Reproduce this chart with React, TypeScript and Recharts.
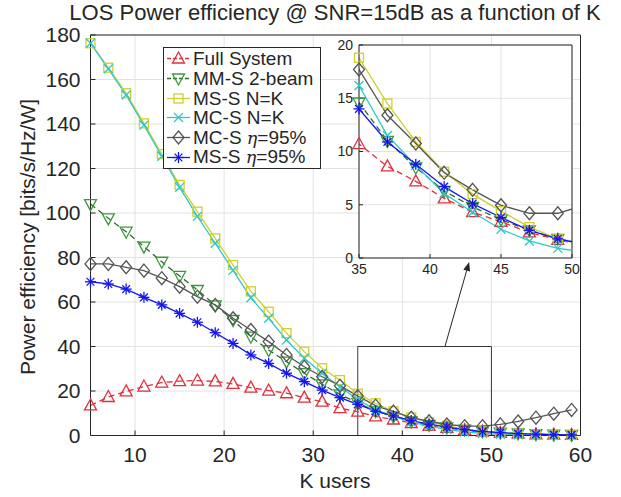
import React from 'react';
import {
  ComposedChart,
  Line,
  XAxis,
  YAxis,
  CartesianGrid,
  ReferenceArea,
  ReferenceLine,
} from 'recharts';

// ---------------- data ----------------
const K = [5, 7, 9, 11, 13, 15, 17, 19, 21, 23, 25, 27, 29, 31, 33, 35, 37, 39, 41, 43, 45, 47, 49, 51, 53, 55, 57, 59];

const fullSystem = [13.5, 17.3, 19.8, 22.0, 23.8, 24.4, 24.7, 24.3, 23.2, 21.5, 20.2, 19.0, 17.0, 15.2, 12.3, 10.7, 8.6, 7.2, 5.6, 4.3, 3.4, 2.4, 1.7, 1.15, 0.8, 0.55, 0.4, 0.3];
const mmS2beam = [104.0, 97.6, 91.6, 84.9, 78.1, 71.7, 65.4, 58.5, 51.9, 44.4, 38.4, 33.2, 28.0, 23.0, 18.5, 14.6, 11.0, 8.5, 6.3, 4.8, 3.6, 2.6, 1.8, 1.3, 0.9, 0.6, 0.4, 0.3];
const msSNK = [176.3, 165.3, 153.8, 140.3, 126.5, 112.6, 100.6, 88.6, 76.6, 64.8, 55.6, 46.0, 37.7, 30.2, 24.9, 18.8, 14.5, 10.9, 8.1, 6.0, 4.4, 2.9, 1.8, 1.2, 0.8, 0.5, 0.35, 0.25];
const mcSNK = [176.3, 164.8, 153.0, 139.5, 125.5, 111.5, 98.5, 86.4, 74.2, 61.9, 52.7, 42.9, 34.7, 28.0, 21.8, 16.2, 11.5, 8.7, 6.05, 4.3, 2.7, 1.6, 0.9, 0.55, 0.35, 0.2, 0.12, 0.08];
const mcSEta = [77.1, 77.1, 75.6, 74.1, 70.7, 66.9, 62.4, 58.7, 52.7, 47.4, 42.2, 36.2, 30.9, 26.4, 22.4, 17.7, 13.4, 10.75, 8.0, 6.4, 4.95, 4.2, 4.2, 5.0, 6.3, 8.0, 9.8, 11.5];
const msSEta = [69.1, 68.1, 65.8, 62.1, 58.7, 54.9, 50.9, 46.2, 41.4, 36.2, 32.4, 28.0, 24.2, 20.4, 17.0, 14.0, 10.9, 8.8, 6.7, 5.1, 3.8, 2.6, 1.8, 1.25, 0.85, 0.6, 0.4, 0.28];

const xTicks = [10, 20, 30, 40, 50, 60];
const yTicks = [0, 20, 40, 60, 80, 100, 120, 140, 160, 180];
const insetXTicks = [35, 40, 45, 50];
const insetYTicks = [0, 5, 10, 15, 20];

const zoomBox = { k1: 35, k2: 50, v1: 0, v2: 40 };

// ---------------- styling ----------------
const FONT = "'Liberation Sans', Arial, Helvetica, sans-serif";
const AX = '#262626';
const GRID = '#e2e2e2';

type MarkerType = 'triUp' | 'triDown' | 'square' | 'cross' | 'diamond' | 'star';

const SERIES: { key: string; name: string; eta?: boolean; color: string; lineColor: string; dash?: string; marker: MarkerType }[] = [
  { key: 'full', name: 'Full System', color: '#e0303c', lineColor: '#e0303c', dash: '6 4', marker: 'triUp' },
  { key: 'mms', name: 'MM-S 2-beam', color: '#3a9a3a', lineColor: '#2a6e2a', dash: '6 4', marker: 'triDown' },
  { key: 'mssN', name: 'MS-S N=K', color: '#cfcf30', lineColor: '#cfcf30', marker: 'square' },
  { key: 'mcsN', name: 'MC-S N=K', color: '#2ec8c8', lineColor: '#2ec8c8', marker: 'cross' },
  { key: 'mcsEta', name: 'MC-S ', eta: true, color: '#555555', lineColor: '#555555', marker: 'diamond' },
  { key: 'mssEta', name: 'MS-S ', eta: true, color: '#1515f0', lineColor: '#1515f0', marker: 'star' },
];

const data = K.map((k, i) => ({
  k,
  full: fullSystem[i],
  mms: mmS2beam[i],
  mssN: msSNK[i],
  mcsN: mcSNK[i],
  mcsEta: mcSEta[i],
  mssEta: msSEta[i],
}));

const insetLineData = data.filter((d) => d.k >= 33 && d.k <= 51);
const insetMarkerData = data.filter((d) => d.k >= 35 && d.k <= 50);

// ---------------- markers ----------------
function MarkerShape({ type, cx, cy, color }: { type: MarkerType; cx: number; cy: number; color: string }) {
  const sw = 1.3;
  const common = { fill: 'none', stroke: color, strokeWidth: sw };
  switch (type) {
    case 'triUp':
      return <polygon points={`${cx},${cy - 6.5} ${cx - 6},${cy + 4.5} ${cx + 6},${cy + 4.5}`} {...common} />;
    case 'triDown':
      return <polygon points={`${cx},${cy + 6.5} ${cx - 6},${cy - 4.5} ${cx + 6},${cy - 4.5}`} {...common} />;
    case 'square':
      return <rect x={cx - 4.5} y={cy - 4.5} width={9} height={9} {...common} />;
    case 'cross':
      return (
        <g {...common}>
          <line x1={cx - 4.5} y1={cy - 4.5} x2={cx + 4.5} y2={cy + 4.5} />
          <line x1={cx - 4.5} y1={cy + 4.5} x2={cx + 4.5} y2={cy - 4.5} />
        </g>
      );
    case 'diamond':
      return <polygon points={`${cx},${cy - 6.5} ${cx + 5.5},${cy} ${cx},${cy + 6.5} ${cx - 5.5},${cy}`} {...common} />;
    case 'star':
    default: {
      const r = 5.5;
      const d = r * 0.7071;
      return (
        <g {...common}>
          <line x1={cx - r} y1={cy} x2={cx + r} y2={cy} />
          <line x1={cx} y1={cy - r} x2={cx} y2={cy + r} />
          <line x1={cx - d} y1={cy - d} x2={cx + d} y2={cy + d} />
          <line x1={cx - d} y1={cy + d} x2={cx + d} y2={cy - d} />
        </g>
      );
    }
  }
}

const makeDot = (type: MarkerType, color: string) => (props: any) => {
  const { cx, cy, index } = props;
  if (cx == null || cy == null || isNaN(cx) || isNaN(cy)) return <g key={`d-${index}`} />;
  return (
    <g key={`d-${index}`}>
      <MarkerShape type={type} cx={cx} cy={cy} color={color} />
    </g>
  );
};

const ArrowShape = (props: any) => {
  const { x1, y1, x2, y2 } = props;
  if ([x1, y1, x2, y2].some((v) => v == null || isNaN(v))) return <g />;
  const ang = Math.atan2(y2 - y1, x2 - x1);
  const L = 9;
  const W = 3.5;
  const bx = x2 - L * Math.cos(ang);
  const by = y2 - L * Math.sin(ang);
  const px = -Math.sin(ang) * W;
  const py = Math.cos(ang) * W;
  return (
    <g>
      <line x1={x1} y1={y1} x2={bx} y2={by} stroke={AX} strokeWidth={1} />
      <polygon points={`${x2},${y2} ${bx + px},${by + py} ${bx - px},${by - py}`} fill={AX} />
    </g>
  );
};

// ---------------- legend ----------------
function LegendBox() {
  return (
    <div
      style={{
        position: 'absolute',
        left: 163,
        top: 47,
        width: 158,
        height: 122,
        boxSizing: 'border-box',
        border: `1px solid ${AX}`,
        background: '#fff',
        paddingTop: 1,
        fontFamily: FONT,
        fontSize: 19,
        color: AX,
      }}
    >
      {SERIES.map((s) => (
        <div key={s.key} style={{ display: 'flex', alignItems: 'center', height: 19.7, whiteSpace: 'nowrap' }}>
          <svg width={28} height={19} style={{ marginLeft: 1, flex: 'none' }}>
            <line x1={2} y1={9.5} x2={25} y2={9.5} stroke={s.lineColor} strokeWidth={1.3} strokeDasharray={s.dash ? '4 2' : undefined} />
            <MarkerShape type={s.marker} cx={13.5} cy={9.5} color={s.color} />
          </svg>
          <span style={{ lineHeight: '19px' }}>
            {s.name}
            {s.eta ? (
              <>
                <span style={{ fontStyle: 'italic', fontFamily: "'DejaVu Serif', serif", fontSize: 17.5 }}>η</span>=95%
              </>
            ) : null}
          </span>
        </div>
      ))}
    </div>
  );
}

// ---------------- app ----------------
export default function App() {
  const tickStyle = { fill: AX, fontSize: 21, fontFamily: FONT };
  const insetTick = { fill: AX, fontSize: 14, fontFamily: FONT };
  const tl = { stroke: AX, strokeWidth: 1 };
  return (
    <div style={{ position: 'absolute', left: 0, top: 0, width: 621, height: 497, background: '#fff', overflow: 'hidden' }}>
      <ComposedChart width={621} height={497} data={data} margin={{ top: 35, right: 40.5, bottom: 31.5, left: 30.5 }}>
        <CartesianGrid stroke={GRID} />
        <XAxis
          dataKey="k"
          type="number"
          domain={[5, 60]}
          ticks={xTicks}
          height={30}
          tickLine={tl}
          tickSize={-5}
          tickMargin={17}
          axisLine={{ stroke: AX }}
          tick={tickStyle}
          interval={0}
        />
        <YAxis
          type="number"
          domain={[0, 180]}
          ticks={yTicks}
          width={60}
          tickLine={tl}
          tickSize={-5}
          tickMargin={15}
          axisLine={{ stroke: AX }}
          tick={tickStyle}
          interval={0}
        />
        <XAxis
          xAxisId="top"
          orientation="top"
          type="number"
          domain={[5, 60]}
          allowDataOverflow
          ticks={xTicks}
          height={0}
          tickLine={tl}
          tickSize={-5}
          tick={false}
          axisLine={false}
          interval={0}
        />
        <YAxis
          yAxisId="right"
          orientation="right"
          type="number"
          domain={[0, 180]}
          allowDataOverflow
          ticks={yTicks}
          width={0}
          tickLine={tl}
          tickSize={-5}
          tick={false}
          axisLine={false}
          interval={0}
        />
        <ReferenceLine y={180} stroke={AX} />
        <ReferenceLine x={60} stroke={AX} />
        <ReferenceArea x1={zoomBox.k1} x2={zoomBox.k2} y1={zoomBox.v1} y2={zoomBox.v2} fill="none" stroke={AX} strokeOpacity={0.9} strokeWidth={1} />
        <ReferenceLine
          segment={[
            { x: 44.8, y: 40.2 },
            { x: 47.5, y: 78 },
          ]}
          shape={ArrowShape}
        />
        {SERIES.map((s) => (
          <Line
            key={s.key}
            dataKey={s.key}
            type="linear"
            stroke={s.lineColor}
            strokeWidth={1.3}
            strokeDasharray={s.dash}
            dot={makeDot(s.marker, s.color)}
            activeDot={false}
            isAnimationActive={false}
          />
        ))}
      </ComposedChart>

      {/* inset */}
      <div style={{ position: 'absolute', left: 320, top: 30, width: 260, height: 250 }}>
        <ComposedChart width={260} height={250} data={insetLineData} margin={{ top: 15, right: 8, bottom: 2, left: 9 }}>
          <CartesianGrid stroke={GRID} fill="#ffffff" fillOpacity={1} xAxisId="l" yAxisId="l" />
          <XAxis
            xAxisId="l"
            dataKey="k"
            type="number"
            domain={[35, 50]}
            ticks={insetXTicks}
            allowDataOverflow
            height={20}
            tickLine={tl}
            tickSize={-4}
            tickMargin={10}
            axisLine={{ stroke: AX }}
            tick={insetTick}
            interval={0}
          />
          <YAxis
            yAxisId="l"
            type="number"
            domain={[0, 20]}
            ticks={insetYTicks}
            allowDataOverflow
            width={30}
            tickLine={tl}
            tickSize={-4}
            tickMargin={10}
            axisLine={{ stroke: AX }}
            tick={insetTick}
            interval={0}
          />
          <XAxis
            xAxisId="lt"
            orientation="top"
            type="number"
            domain={[35, 50]}
            allowDataOverflow
            ticks={insetXTicks}
            height={0}
            tickLine={tl}
            tickSize={-4}
            tick={false}
            axisLine={false}
            interval={0}
          />
          <YAxis
            yAxisId="lr"
            orientation="right"
            type="number"
            domain={[0, 20]}
            allowDataOverflow
            ticks={insetYTicks}
            width={0}
            tickLine={tl}
            tickSize={-4}
            tick={false}
            axisLine={false}
            interval={0}
          />
          <XAxis xAxisId="m" dataKey="k" type="number" domain={[35, 50]} hide />
          <YAxis yAxisId="m" type="number" domain={[0, 20]} hide />
          <ReferenceLine xAxisId="l" yAxisId="l" y={20} stroke={AX} />
          <ReferenceLine xAxisId="l" yAxisId="l" x={50} stroke={AX} />
          {SERIES.map((s) => (
            <Line
              key={`l-${s.key}`}
              xAxisId="l"
              yAxisId="l"
              dataKey={s.key}
              type="linear"
              stroke={s.lineColor}
              strokeWidth={1.3}
              strokeDasharray={s.dash}
              dot={false}
              activeDot={false}
              isAnimationActive={false}
            />
          ))}
          {SERIES.map((s) => (
            <Line
              key={`m-${s.key}`}
              xAxisId="m"
              yAxisId="m"
              data={insetMarkerData}
              dataKey={s.key}
              type="linear"
              stroke="none"
              dot={makeDot(s.marker, s.color)}
              activeDot={false}
              isAnimationActive={false}
            />
          ))}
        </ComposedChart>
      </div>

      <LegendBox />

      {/* title and axis labels */}
      <div
        style={{
          position: 'absolute',
          left: 0,
          width: 670,
          top: 0,
          height: 25,
          lineHeight: '25px',
          textAlign: 'center',
          fontFamily: FONT,
          fontSize: 22,
          color: AX,
          whiteSpace: 'nowrap',
        }}
      >
        LOS Power efficiency @ SNR=15dB as a function of K
      </div>
      <div
        style={{
          position: 'absolute',
          left: 235,
          width: 200,
          top: 469,
          textAlign: 'center',
          fontFamily: FONT,
          fontSize: 21,
          color: AX,
        }}
      >
        K users
      </div>
      <div
        style={{
          position: 'absolute',
          left: 28,
          top: 237,
          width: 0,
          height: 0,
          overflow: 'visible',
        }}
      >
        <div
          style={{
            position: 'absolute',
            left: 0,
            top: 0,
            transform: 'translate(-50%, -50%) rotate(-90deg)',
            fontFamily: FONT,
            fontSize: 21,
            color: AX,
            whiteSpace: 'nowrap',
          }}
        >
          Power efficiency [bits/s/Hz/W]
        </div>
      </div>
    </div>
  );
}
